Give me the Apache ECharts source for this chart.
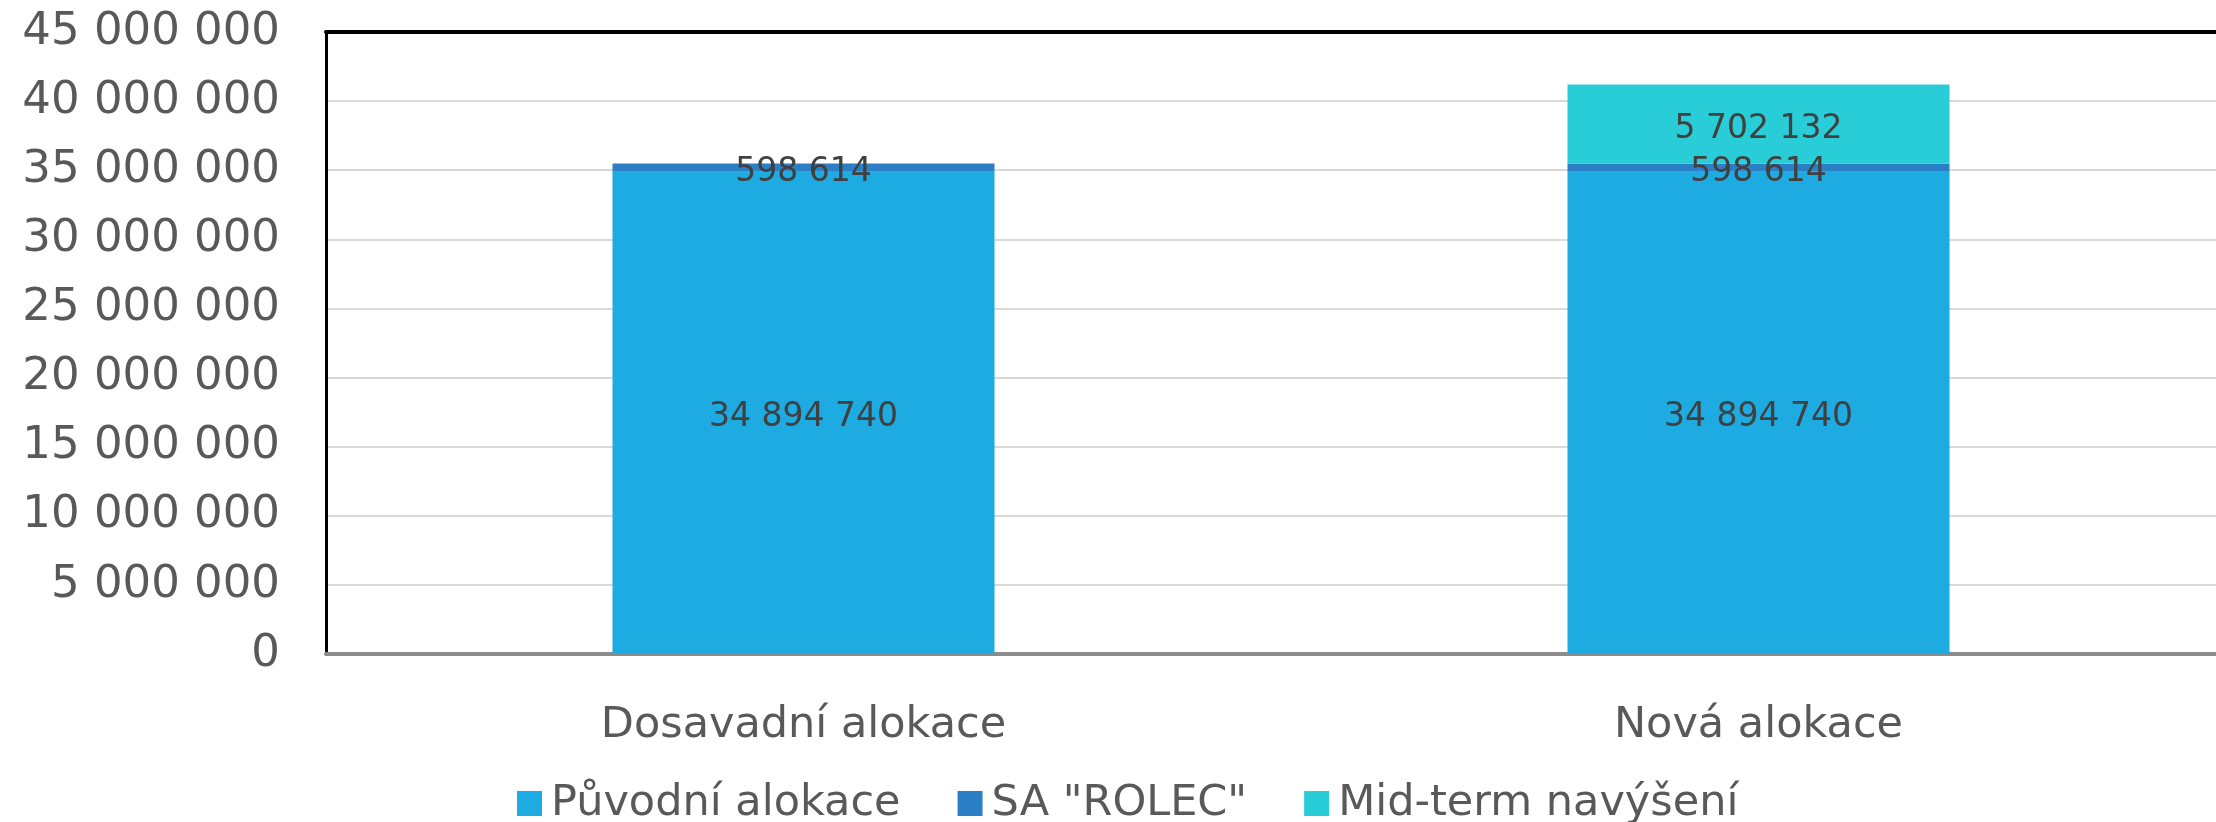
<!DOCTYPE html>
<html>
<head>
<meta charset="utf-8">
<script src="https://cdn.jsdelivr.net/npm/echarts@6/dist/echarts.min.js"></script>
<style>
html,body{margin:0;padding:0;background:#fff;}
#chart{width:2216px;height:822px;}
</style>
</head>
<body>
<div id="chart"></div>
<script>
const categories = ['Dosavadní alokace', 'Nová alokace'];
const seriesNames = ['Původní alokace', 'SA "ROLEC"', 'Mid-term navýšení'];
const puvodniAlokace = [34894740, 34894740];
const saRolec = [598614, 598614];
const midTerm = [null, 5702132];
const yTicks = { min: 0, max: 45000000, interval: 5000000 };

const FONT = 'DejaVu Sans';
function fmt(v) {
  return String(Math.round(v)).replace(/\B(?=(\d{3})+(?!\d))/g, ' ');
}

const chart = echarts.init(document.getElementById('chart'));
const labelStyle = {
  show: true,
  position: 'inside',
  color: '#404040',
  fontFamily: FONT,
  fontSize: 33,
  offset: [0, 5],
  formatter: p => (p.value == null ? '' : fmt(p.value))
};

chart.setOption({
  animation: false,
  backgroundColor: '#ffffff',
  textStyle: { fontFamily: FONT },
  grid: { left: 326, width: 1910, top: 32, bottom: 168, containLabel: false, outerBoundsMode: 'none' },
  legend: {
    data: seriesNames,
    left: 512,
    top: 777,
    itemWidth: 25,
    itemHeight: 25,
    itemGap: 57,
    icon: 'rect',
    textStyle: { color: '#595959', fontFamily: FONT, fontSize: 43, padding: [0, 0, 0, 4] }
  },
  xAxis: [{
    type: 'category',
    data: categories,
    position: 'bottom',
    axisLine: { show: true, lineStyle: { color: '#8c8c8c', width: 4 } },
    axisTick: { show: false },
    axisLabel: { color: '#595959', fontFamily: FONT, fontSize: 43, margin: 50 }
  }, {
    type: 'category',
    data: categories,
    position: 'top',
    axisLine: { show: true, lineStyle: { color: '#000000', width: 4 } },
    axisTick: { show: false },
    axisLabel: { show: false }
  }],
  yAxis: {
    type: 'value',
    min: yTicks.min,
    max: yTicks.max,
    interval: yTicks.interval,
    axisLine: { show: true, lineStyle: { color: '#000000', width: 3 } },
    axisTick: { show: false },
    splitLine: { show: true, lineStyle: { color: '#d9d9d9', width: 2 } },
    axisLabel: { color: '#595959', fontFamily: FONT, fontSize: 45, margin: 46, formatter: v => fmt(v) }
  },
  series: [
    {
      name: seriesNames[0], type: 'bar', stack: 'total', barWidth: '40%',
      itemStyle: { color: '#1eabe2' }, label: labelStyle, data: puvodniAlokace
    },
    {
      name: seriesNames[1], type: 'bar', stack: 'total', barWidth: '40%',
      itemStyle: { color: '#2a7fc5' }, label: labelStyle, data: saRolec
    },
    {
      name: seriesNames[2], type: 'bar', stack: 'total', barWidth: '40%',
      itemStyle: { color: '#29cdd8' }, label: labelStyle, data: midTerm
    }
  ]
});
</script>
</body>
</html>
